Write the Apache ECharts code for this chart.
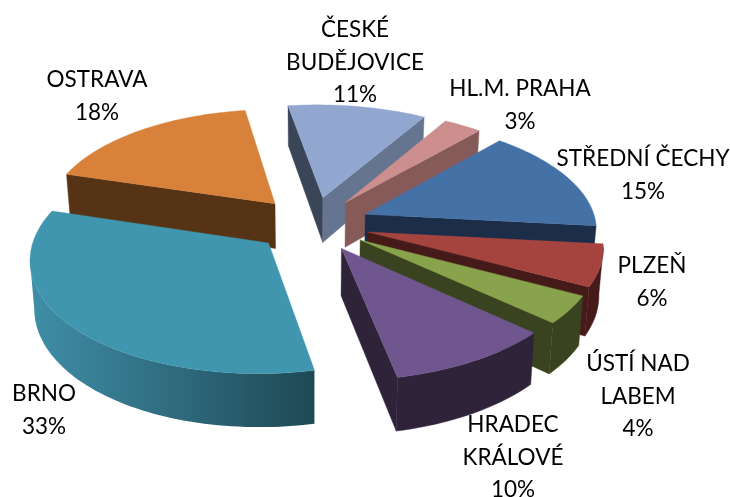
<!DOCTYPE html>
<html><head><meta charset="utf-8">
<style>html,body{margin:0;padding:0;background:#fff}#c{width:730px;height:497px}</style>
<script src="https://cdn.jsdelivr.net/npm/echarts@6/dist/echarts.min.js"></script>
</head><body><div id="c"></div>
<script>
const categories = ['STŘEDNÍ ČECHY','PLZEŇ','ÚSTÍ NAD LABEM','HRADEC KRÁLOVÉ','BRNO','OSTRAVA','ČESKÉ BUDĚJOVICE','HL.M. PRAHA'];
const values = [15,6,4,10,33,18,11,3];
const labelLines = [['STŘEDNÍ ČECHY'],['PLZEŇ'],['ÚSTÍ NAD','LABEM'],['HRADEC','KRÁLOVÉ'],['BRNO'],['OSTRAVA'],['ČESKÉ','BUDĚJOVICE'],['HL.M. PRAHA']];
const drawOrder = [5,6,7,0,1,2,3,4];
const topColors = ['#4472a7','#a5433f','#88a34c','#70568f','#3f96ae','#d8813a','#92a7cf','#cd8f8d'];
const wallColors = ['#1b2d47','#451a18','#3a431f','#2e2339','#2f6b7f','#573316','#3a4558','#855a59'];
const endWallColors = ['#1b2d47','#451a18','#3a431f','#2e2339','#2f6b7f','#573316','#66758f','#855a59'];
const labelAnchors = [[643,159],[652,266],[638,364],[513,425],[44,394],[97,80],[355,30],[520,89]];

const G = {cx:312, cy:224, b:231, a:110, inv:0.12, e:0.25, h:46, k:0.985, start:42, skew:3};
const total = values.reduce((s,v)=>s+v,0);
function proj(X,Y,bottom){
  const s = 1/(1-Y*G.inv);
  let x = G.b*X*s - G.skew*Y*Y, y = G.a*Y*s;
  if(bottom){ x*=G.k; y+=G.h*s; }
  return [G.cx+x, G.cy+y];
}
function polar(t,r,off){
  const a=t*Math.PI/180;
  return [off[0]+r*Math.sin(a), off[1]-r*Math.cos(a)];
}
function sliceShapes(i,base){
  let acc=0; for(let j=0;j<i;j++) acc+=values[j];
  const t0=G.start+acc/total*360, t1=G.start+(acc+values[i])/total*360, mid=(t0+t1)/2;
  const off=polar(mid,G.e,[0,0]);
  const steps=Math.max(8,Math.round((t1-t0)/1.5));
  const rim=[];
  for(let n=0;n<=steps;n++){ rim.push(polar(t0+(t1-t0)*n/steps,1,off)); }
  const els=[];
  const quad=(p,q,fill)=>els.push({type:'polygon',z2:base+els.length,
    shape:{points:[proj(p[0],p[1]),proj(q[0],q[1]),proj(q[0],q[1],true),proj(p[0],p[1],true)]},
    style:{fill,stroke:fill,lineWidth:0.4}});
  const first=rim[0], last=rim[rim.length-1];
  if(proj(first[0],first[1])[0]<proj(off[0],off[1])[0]) quad(off,first,wallColors[i]);
  if(proj(off[0],off[1])[0]<proj(last[0],last[1])[0]) quad(last,off,endWallColors[i]);
  const vis=[];
  for(let n=0;n<steps;n++){
    if(proj(rim[n+1][0],rim[n+1][1])[0]<proj(rim[n][0],rim[n][1])[0]){
      if(!vis.length) vis.push(rim[n]);
      vis.push(rim[n+1]);
    }
  }
  if(vis.length){
    const pts=vis.map(p=>proj(p[0],p[1])).concat(vis.slice().reverse().map(p=>proj(p[0],p[1],true)));
    let fill=wallColors[i];
    if(i===4){
      fill=new echarts.graphic.LinearGradient(0,0,1,0,[{offset:0,color:'#3f8fa7'},{offset:0.5,color:'#2f6b7f'},{offset:1,color:'#1e4953'}]);
    }
    els.push({type:'polygon',z2:base+els.length,shape:{points:pts},style:{fill,stroke:i===4?null:fill,lineWidth:0.4}});
  }
  const topPts=[proj(off[0],off[1])].concat(rim.map(p=>proj(p[0],p[1])));
  els.push({type:'polygon',z2:base+els.length,shape:{points:topPts},style:{fill:topColors[i],stroke:topColors[i],lineWidth:0.4}});
  return els;
}
const FONT='Lato';
const chart=echarts.init(document.getElementById('c'),null,{renderer:'canvas',width:730,height:497});
chart.setOption({
  animation:false,
  backgroundColor:'#fff',
  series:[{
    type:'custom',
    coordinateSystem:'none',
    silent:true,
    data:categories.map((c,i)=>({name:c,value:values[i]})),
    renderItem(params){
      const i=params.dataIndex;
      const base=drawOrder.indexOf(i)*10+1;
      const children=sliceShapes(i,base);
      const lines=labelLines[i].concat([Math.round(values[i]/total*100)+'%']);
      lines.forEach((t,n)=>{
        children.push({type:'text',z2:1000,style:{x:labelAnchors[i][0],y:labelAnchors[i][1]+n*32.3,text:t,
          fill:'#000',font:'22.5px '+FONT,align:'center',verticalAlign:'middle'}});
      });
      return {type:'group',children};
    }
  }]
});
</script></body></html>
